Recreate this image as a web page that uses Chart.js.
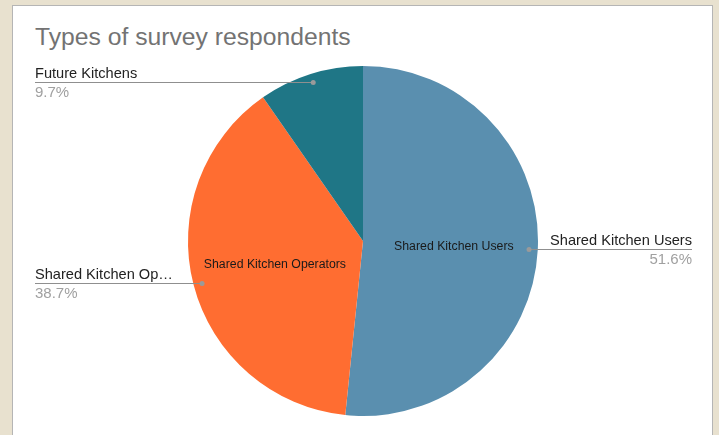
<!DOCTYPE html>
<html>
<head>
<meta charset="utf-8">
<script src="https://cdn.jsdelivr.net/npm/chart.js@4/dist/chart.umd.min.js"></script>
<style>
  html, body { margin: 0; padding: 0; }
  body { width: 719px; height: 435px; background: #e8e1cf; position: relative; overflow: hidden;
         font-family: "Liberation Sans", Arial, sans-serif; }
  .card { position: absolute; left: 12px; top: 5px; width: 701px; height: 445px;
          background: #fff; border: 1px solid #b5b5b5; box-sizing: border-box; }
  .title { position: absolute; left: 35px; top: 23px; font-size: 24.7px; color: #737373;
           font-family: "Liberation Sans", Arial, sans-serif; white-space: nowrap; }
  #wrap { position: absolute; left: 0; top: 0; width: 719px; height: 435px; }
</style>
</head>
<body>
<div class="card"></div>
<div class="title">Types of survey respondents</div>
<div id="wrap"><canvas id="chart"></canvas></div>
<script>
// Survey respondent breakdown
const categories = ['Shared Kitchen Users', 'Shared Kitchen Operators', 'Future Kitchens'];
const counts = [16, 12, 3];
const percentLabels = ['51.6%', '38.7%', '9.7%'];
const calloutNames = ['Shared Kitchen Users', 'Shared Kitchen Op\u2026', 'Future Kitchens'];
const sliceColors = ['#5a8faf', '#ff6d31', '#1f7686'];

// Callout side for each slice: text on the right (+1) or left (-1)
const calloutSide = [1, -1, -1];
const showInner = [true, true, false];

const labelPlugin = {
  id: 'pieLabels',
  afterDatasetsDraw(chart) {
    const ctx = chart.ctx;
    const meta = chart.getDatasetMeta(0);
    ctx.save();
    meta.data.forEach((arc, i) => {
      const p = arc.getProps(['x', 'y', 'startAngle', 'endAngle', 'outerRadius'], true);
      const mid = (p.startAngle + p.endAngle) / 2;
      const r = p.outerRadius;

      // label inside the slice
      if (showInner[i]) {
        const ix = p.x + Math.cos(mid) * r * 0.52;
        const iy = p.y + Math.sin(mid) * r * 0.52 + 1;
        ctx.font = '12.3px "Liberation Sans", Arial, sans-serif';
        ctx.fillStyle = '#1a1a1a';
        ctx.textAlign = 'center';
        ctx.textBaseline = 'middle';
        ctx.fillText(categories[i], ix, iy);
      }

      // callout dot and leader line
      const dx = p.x + Math.cos(mid) * r * 0.95;
      const dy = p.y + Math.sin(mid) * r * 0.95;
      const endX = calloutSide[i] > 0 ? 692 : 35;
      ctx.strokeStyle = '#8f8f8f';
      ctx.lineWidth = 1;
      ctx.beginPath();
      ctx.moveTo(dx, Math.round(dy) + 0.5);
      ctx.lineTo(endX, Math.round(dy) + 0.5);
      ctx.stroke();
      ctx.fillStyle = '#9a9a9a';
      ctx.beginPath();
      ctx.arc(dx, Math.round(dy) + 0.5, 2.5, 0, Math.PI * 2);
      ctx.fill();

      ctx.textAlign = calloutSide[i] > 0 ? 'right' : 'left';
      ctx.textBaseline = 'alphabetic';
      ctx.font = '14.6px "Liberation Sans", Arial, sans-serif';
      ctx.fillStyle = '#222';
      ctx.fillText(calloutNames[i], endX, Math.round(dy) - 4);
      ctx.font = '15px "Liberation Sans", Arial, sans-serif';
      ctx.fillStyle = '#a0a0a0';
      ctx.fillText(percentLabels[i], endX, Math.round(dy) + 15);
    });
    ctx.restore();
  }
};

new Chart(document.getElementById('chart'), {
  type: 'pie',
  data: {
    labels: categories,
    datasets: [{
      data: counts,
      backgroundColor: sliceColors,
      borderWidth: 0
    }]
  },
  options: {
    responsive: true,
    maintainAspectRatio: false,
    animation: false,
    layout: { padding: { top: 66, bottom: 19, left: 188, right: 181 } },
    plugins: {
      legend: { display: false },
      tooltip: { enabled: false },
      title: { display: false }
    }
  },
  plugins: [labelPlugin]
});
</script>
</body>
</html>
